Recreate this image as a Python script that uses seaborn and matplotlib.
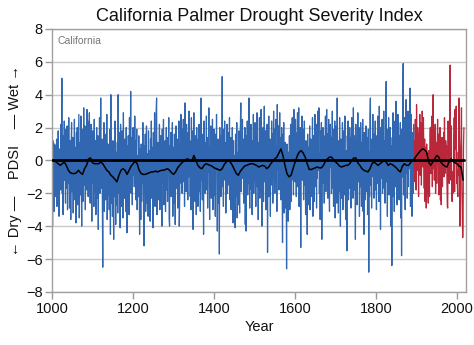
import numpy as np
import pandas as pd
import matplotlib
matplotlib.use("Agg")
import matplotlib.pyplot as plt
import seaborn as sns

# ---------------- data ----------------
start_year = 1000

pdsi_tree_ring = [
    1.6, -4.0, 1.2, -1.5, 0.8, -3.1, 1.0, 0.4, -2.2, 0.9, -0.5, 1.3, -2.8, 0.2, -1.1, 1.8, -0.6, -3.4, 0.7, -0.9,
    0.5, -1.8, 2.2, -0.4, 5.0, -2.0, 0.3, -3.3, 1.5, -0.8, 2.4, -1.2, 0.1, -2.6, 1.9, -0.3, -1.7, 2.1, -3.0, 0.6,
    -1.4, 2.6, -0.7, -2.9, 1.2, -0.2, -3.6, 0.9, 2.3, -1.9, -0.5, 1.4, -3.2, 0.3, -1.6, 2.5, -2.4, 0.8, -0.9, -3.8,
    1.7, -0.6, 2.0, -2.7, -1.0, 0.4, 2.8, -3.5, -0.3, 1.1, -2.1, 2.7, -1.3, -4.0, 0.6, 1.9, -2.5, -0.8, 3.2, -1.5,
    -0.4, 2.1, -3.0, 1.4, 0.2, -1.8, 3.1, -0.7, 2.4, -2.2, 1.6, 0.5, 2.9, -1.1, -2.6, 1.0, 2.2, -0.9, -3.7, 0.7,
    1.8, -1.4, 0.3, -2.8, 2.5, -0.6, -1.9, 1.2, -3.3, 0.9, 2.0, -2.3, -0.2, 1.5, -4.2, 0.4, -1.0, 2.6, -2.0, 0.1,
    3.8, -1.7, -0.5, 1.3, -2.9, -6.5, 0.8, -1.2, 2.3, -3.1, -0.4, 1.6, -2.4, 0.2, -1.5, 2.8, -3.6, -0.7, 1.0, -2.1,
    0.6, -3.0, 1.9, -1.3, -4.5, 4.0, -2.6, -0.9, 0.7, -3.4, 1.2, -1.8, -4.8, 0.3, -2.2, 2.4, -1.1, -3.9, 0.5, -2.7,
    -1.6, 1.1, -3.2, 4.0, -0.8, -2.0, 1.7, -0.3, -4.1, 2.2, -1.4, 0.6, -2.8, 1.8, -0.5, -3.5, 2.9, -1.0, 0.4, -2.3,
    1.3, -0.7, -3.1, 2.0, -1.9, -4.4, 0.9, -2.5, 1.5, -0.6, -3.3, 2.6, -1.2, 0.2, 4.2, -2.0, -0.4, 1.4, -2.7, 0.8,
    2.0, -0.9, 0.5, -1.6, 2.7, -0.3, 1.2, -2.4, 0.6, 1.9, -3.0, -1.1, 0.3, -2.2, 1.5, -0.8, -4.5, 0.7, -1.8, -3.6,
    1.0, -2.5, 0.2, -1.4, 2.3, -0.7, -3.8, -5.2, 0.9, -1.9, 1.6, -3.1, -0.5, 2.1, -2.6, -1.2, 0.4, -3.4, 1.8, -0.9,
    -2.0, 0.6, -3.7, 1.3, -1.1, 2.4, -2.3, -0.4, 0.8, -4.1, 1.7, -1.5, -0.2, 2.9, -2.8, 0.5, -1.0, 3.1, 3.8, -3.3,
    -0.6, 1.1, -2.4, 0.3, -1.7, 2.2, -3.0, -0.8, 1.5, -2.1, 0.7, -4.0, 1.9, -1.3, -0.1, 2.5, -2.7, 0.4, -1.6, 1.2,
    -3.1, -0.5, 2.0, -1.8, 0.6, -2.5, 1.4, -0.3, 2.6, -3.5, -4.0, 0.9, -1.2, 1.7, -2.2, 0.2, -0.9, 2.3, -3.4, -1.5,
    0.8, -2.6, 1.6, -0.4, -3.9, 0.5, 2.1, -1.7, -0.2, 1.3, -2.9, 0.7, -1.1, 2.4, -4.0, -2.3, 1.0, -0.6, 2.8, -1.4,
    0.3, -2.0, 1.9, -0.7, 2.5, -1.3, 0.6, -2.8, 3.5, -0.5, 1.4, -1.9, 2.2, -0.2, 0.9, -2.4, 1.7, -1.0, 3.0, -0.4,
    1.2, -2.2, 0.5, -3.0, 2.6, -0.8, 1.8, -1.5, -4.2, 0.4, 2.9, -1.1, 0.7, -2.5, 1.5, -0.3, -3.3, 2.0, -1.7, 0.2,
    -2.8, 1.3, -0.6, 2.2, -1.9, 0.8, -3.1, -0.4, 3.8, -1.2, 0.5, -2.4, 1.6, -0.9, -4.5, 2.4, -1.5, 0.3, -2.0, 1.1,
    -0.5, 2.7, -1.8, 0.6, -2.9, 1.4, -0.7, 3.2, -1.3, -3.6, 0.9, -0.2, 2.1, -2.3, 0.4, -1.0, 2.5, -3.0, 1.2, -0.8,
    1.9, -2.1, 0.2, -3.4, 1.6, -0.6, 2.8, -1.4, -4.3, 0.7, 1.3, -2.6, 0.5, -5.7, 2.0, -1.1, 0.8, -2.2, 1.5, -0.4,
    5.1, -1.6, 0.3, -2.8, 1.9, -0.5, 2.4, -1.2, 0.6, -3.2, 1.1, -0.3, 2.2, -2.0, 0.9, -1.5, 1.7, -0.7, 2.6, -2.4,
    -0.2, 1.4, -3.0, 0.7, -1.8, 2.0, -0.9, -3.8, 1.2, -2.5, 0.3, -1.3, -4.1, 1.6, -2.2, -0.6, 2.3, -3.5, -1.0, 0.5,
    -2.7, 1.8, -0.4, -3.2, 0.9, 2.1, 3.5, -1.9, 0.6, -1.1, 2.5, -0.8, 1.3, -2.6, 0.2, -1.6, 2.0, -3.9, 0.4, -4.3,
    1.5, -0.7, 2.4, -2.1, 0.8, -1.4, 3.8, -0.3, -2.9, 1.7, -0.9, 2.2, -1.8, 0.5, -3.3, 1.2, -0.4, 2.8, -2.0, 0.6,
    -1.2, 2.3, -0.5, -2.8, 1.4, -0.8, 2.9, -1.6, 0.3, -3.6, 1.1, -0.2, 2.6, -2.3, 0.7, -1.9, 3.1, -0.6, -4.0, 1.5,
    -0.9, 2.0, -2.5, 0.4, 3.3, -1.3, -0.4, 1.8, -3.0, 0.9, -1.7, 2.2, -5.6, 0.6, -1.1, 2.7, -2.2, -0.3, 1.3, -3.4,
    0.8, -1.5, 2.4, -0.7, 1.6, -2.6, 0.2, 3.0, -1.0, 1.9, -2.0, 0.5, 2.5, -1.4, 0.9, -3.1, 3.4, 1.2, -0.6, 2.1,
    -1.8, 0.7, 2.9, -0.5, 1.4, -2.4, 0.3, 2.0, -1.1, -5.0, 1.6, -0.8, 2.3, -3.2, 0.4, -1.7, 1.1, -2.9, -0.3, -6.6,
    1.0, -2.3, -0.9, -3.7, 0.5, -1.9, 1.5, -3.0, -0.6, 2.2, -2.5, 0.8, -1.2, 2.6, -0.4, 1.3, -2.1, 3.1, -0.7, 1.8,
    -1.3, 2.5, 0.4, -2.2, 1.7, -0.5, 2.9, -1.6, 0.9, 3.2, -2.8, 1.1, -0.3, 2.0, -5.3, 1.4, -0.8, 2.7, -1.2, 0.6,
    1.9, -2.4, 0.3, 2.4, -1.5, -0.2, -3.3, 1.2, -2.0, 0.5, -4.5, 1.6, -1.0, -2.7, 0.8, -1.8, 2.1, -3.0, -0.4, 1.3,
    -2.2, 0.6, -1.3, 2.6, -3.4, -0.7, 1.5, -2.5, 0.2, 2.8, -1.6, -0.3, 2.2, -2.9, 0.9, -1.1, 3.0, -0.6, 1.7, 3.2,
    -2.0, 0.4, -3.6, 1.8, -0.9, 2.3, -4.8, 0.7, -1.4, 2.0, -0.2, 1.5, -2.6, 0.9, -1.0, 2.7, -1.9, 0.3, 3.1, -0.5,
    1.6, -2.3, 0.8, 2.5, -1.2, -3.1, 1.0, 2.2, -0.4, 1.4, -2.0, 0.6, 3.0, -1.7, 0.2, -2.8, 1.9, -0.6, 2.4, -3.5,
    0.5, -1.4, 2.1, -2.6, 3.8, -0.8, 1.2, -3.2, 0.4, -1.9, 2.6, -0.5, -4.0, 1.3, -2.3, 0.7, -1.0, 2.3, -3.0, -0.7,
    1.8, -2.1, 0.3, 2.7, -1.5, -3.6, 0.6, -1.2, -5.5, 1.5, -0.3, 2.4, -2.4, 0.9, -1.7, 2.0, -0.6, 1.4, -2.9, 0.2,
    2.6, -1.1, 0.7, -2.3, 3.2, -0.4, 1.5, -1.8, 0.9, -4.8, 2.2, -0.8, 1.0, -2.7, 0.4, 2.9, -1.3, -0.2, 2.0, -3.4,
    0.6, -1.6, 2.3, -0.9, -2.8, 1.1, -0.5, 2.5, -3.1, 0.3, -4.5, 1.7, -1.2, -2.4, 0.8, 2.1, -1.9, -0.4, 1.4, -3.3,
    -0.7, 1.9, -6.8, 0.5, -2.2, 2.6, 3.8, -1.5, 0.2, -2.9, 1.3, -0.6, 2.8, -1.0, 0.9, -2.3, 1.6, -0.3, 2.4, -1.8,
    0.4, -3.0, 1.5, -0.8, 2.7, -1.4, 0.6, -2.5, 3.3, -0.2, 1.1, -4.2, 2.0, -1.1, 0.3, 2.5, -2.0, 0.8, -0.5, 3.0,
    -1.7, 1.2, -2.6, 0.5, 2.2, 4.8, -1.3, 0.7, -3.4, 1.9, -0.6, 2.6, -2.1, 0.3, -1.5, 2.0, -4.0, 0.9, -0.4, -6.4,
    1.4, -2.2, 2.9, -0.7, 1.1, -3.1, 0.4, 2.4, -1.6, 3.6, -0.9, 1.7, -2.7, 0.6, 2.8, -1.2, 0.2, -2.4, 1.5, -0.3,
    2.3, -3.5, 0.8, -5.8, 1.9, -1.0, 3.2, 5.9, -2.1, 0.5, 2.6, -1.4, -3.0, 1.2, 3.7, -0.8, 2.1, -2.3, 0.7, 3.0,
    -1.6, 2.4, -0.5, 1.5, 4.4, -2.8, 0.9, 2.8, -1.1, -3.4, 1.7, 0.3, -2.0, 2.2, -0.7,
]

pdsi_instrumental = [
    1.2, -1.3, 2.5, 0.4, -1.8, 3.4, 0.8, -0.6, 2.0, 1.1, -2.2, 1.6, 0.3, 2.8, -0.9, 1.4, 2.3, -1.5, 0.7, 3.0,
    1.9, -0.4, 2.6, 0.5, -1.7, 1.3, -2.5, 0.8, -1.1, -2.9, 1.0, -0.7, 0.4, -1.9, -2.6, 0.6, -0.3, -2.2, 1.5, 2.0,
    1.2, -0.8, 2.1, 2.7, -1.6, 0.9, 4.0, -0.5, 1.8, -1.2, 0.3, 2.2, -2.0, -0.6, 1.1, -1.4, 0.7, 2.5, -0.2, 1.6,
    -2.1, 0.8, -0.9, 2.0, -2.4, -1.3, -2.7, 0.5, 1.4, -1.6, 0.9, -0.5, 1.7, -1.0, 2.6, -0.8, -0.3, 1.2, 0.6, 0.9,
    -1.1, -2.8, -2.9, 2.4, 0.3, 1.9, -1.4, 2.8, 5.8, 0.2, -1.2, 2.1, -2.3, -2.5, -0.7, -2.0, -1.5, 0.4, 2.6, -1.9,
    3.1, 0.7, 1.8, 3.3, -1.4, -0.6, -1.7, -2.2, 0.5, -0.9, 3.8, 0.3, -4.0, -1.6, 0.8, 1.5, 3.2, -1.8, -3.0, -4.7,
    -3.5, 0.9, 2.0,
]

smooth_start = 1005
smooth_step = 5
smooth_values = [
    0.0, -0.1, -0.2, -0.3, -0.2, -0.1, -0.3, -0.6, -0.75, -0.8,
    -0.8, -0.75, -0.6, -0.75, -0.85, -0.5, -0.3, 0.1, 0.15, -0.15,
    -0.2, -0.2, -0.2, -0.1, -0.2, -0.4, -0.6, -0.7, -0.9, -1.0,
    -1.15, -1.3, -0.9, -0.6, -0.5, -0.6, -0.85, -0.6, -0.35, -0.2,
    -0.05, -0.2, -0.6, -0.8, -0.85, -0.85, -0.8, -0.75, -0.7, -0.7,
    -0.65, -0.7, -0.65, -0.6, -0.6, -0.55, -0.5, -0.6, -0.75, -0.85,
    -0.7, -0.45, -0.3, -0.15, -0.05, 0.05, 0.1, 0.0, -0.05, 0.3,
    0.0, -0.3, -0.45, -0.5, -0.3, -0.2, -0.25, -0.3, -0.35, -0.45,
    -0.5, -0.55, -0.6, -0.5, -0.25, -0.1, 0.0, -0.1, -0.3, -0.55,
    -0.8, -0.9, -0.65, -0.5, -0.35, -0.3, -0.25, -0.2, -0.2, -0.25,
    -0.3, -0.4, -0.35, -0.3, -0.35, -0.5, -0.4, -0.2, -0.05, 0.1,
    0.2, 0.45, 0.7, 0.3, -0.3, -0.8, -1.0, -0.9, -0.5, -0.1,
    0.25, 0.5, 0.6, 0.45, 0.2, -0.2, -0.55, -0.55, -0.5, -0.45,
    -0.4, -0.45, -0.45, -0.3, -0.05, 0.1, 0.2, 0.2, 0.05, -0.1,
    -0.2, -0.35, -0.4, -0.35, -0.3, -0.3, -0.2, 0.0, 0.15, 0.15,
    -0.15, -0.3, -0.5, -0.6, -0.65, -0.7, -0.5, -0.2, -0.1, -0.2,
    -0.3, -0.2, -0.1, 0.0, -0.1, -0.3, -0.2, -0.25, -0.35, -0.45,
    -0.6, -0.7, -0.35, -0.2, -0.3, -0.3, -0.15, 0.0, 0.1, 0.3,
    0.45, 0.6, 0.7, 0.65, 0.5, -0.1, -0.3, -0.1, 0.1, 0.3,
    0.2, -0.1, -0.25, -0.35, -0.4, -0.1, 0.1, -0.05, -0.15, -0.2,
    -0.35, -0.4, -1.2,
]

y_ticks = [-8, -6, -4, -2, 0, 2, 4, 6, 8]
x_ticks = [1000, 1200, 1400, 1600, 1800, 2000]

# ---------------- frames ----------------
tree_years = np.arange(start_year, start_year + len(pdsi_tree_ring))
df_tree = pd.DataFrame({"year": tree_years, "pdsi": pdsi_tree_ring})
inst_start = start_year + len(pdsi_tree_ring)
inst_years = np.arange(inst_start - 1, inst_start + len(pdsi_instrumental))
df_inst = pd.DataFrame({"year": inst_years,
                        "pdsi": [pdsi_tree_ring[-1]] + pdsi_instrumental})
smooth_years = np.arange(smooth_start, smooth_start + smooth_step * len(smooth_values), smooth_step)
df_smooth = pd.DataFrame({"year": smooth_years, "pdsi": smooth_values})

# ---------------- style ----------------
sns.set_theme(style="white")
plt.rcParams["font.family"] = ["Liberation Sans", "DejaVu Sans"]

fig = plt.figure(figsize=(4.74, 3.45), dpi=100)
ax = fig.add_axes([0.110, 0.154, 0.873, 0.762])

for yv in y_ticks:
    ax.axhline(yv, color="#c9c9c9", linewidth=1.0, zorder=0)

blue = "#3166b0"
red = "#b8283a"
sns.lineplot(data=df_tree, x="year", y="pdsi", color=blue, linewidth=0.9,
             errorbar=None, ax=ax, zorder=2)
sns.lineplot(data=df_inst, x="year", y="pdsi", color=red, linewidth=0.9,
             errorbar=None, ax=ax, zorder=2)
ax.plot([start_year, 2018], [0, 0], color="black", linewidth=2.0, zorder=3)
sns.lineplot(data=df_smooth, x="year", y="pdsi", color="black", linewidth=1.1,
             errorbar=None, ax=ax, zorder=4)

ax.set_xlim(1000, 2022)
ax.set_ylim(-8, 8)
ax.set_xticks(x_ticks)
ax.set_yticks(y_ticks)
ax.set_yticklabels([str(v).replace("-", "\u2212") for v in y_ticks])
ax.tick_params(axis="both", which="major", labelsize=10.5, length=5, width=1,
               color="#9a9a9a", direction="out", bottom=True, left=True, pad=2,
               labelcolor="#111111")

for s in ax.spines.values():
    s.set_color("#a0a0a0")
    s.set_linewidth(1.0)

ax.set_xlabel("Year", fontsize=10.5, color="#111111", labelpad=3)
ax.set_ylabel("\u2190 Dry \u2014    PDSI    \u2014 Wet \u2192", fontsize=10.5,
              color="#111111", labelpad=3)
ax.set_title("California Palmer Drought Severity Index", fontsize=13,
             color="#111111", pad=6)
ax.text(0.012, 0.975, "California", transform=ax.transAxes, fontsize=7.5,
        color="#777777", va="top", ha="left")

fig.savefig("out.png", dpi=100)
